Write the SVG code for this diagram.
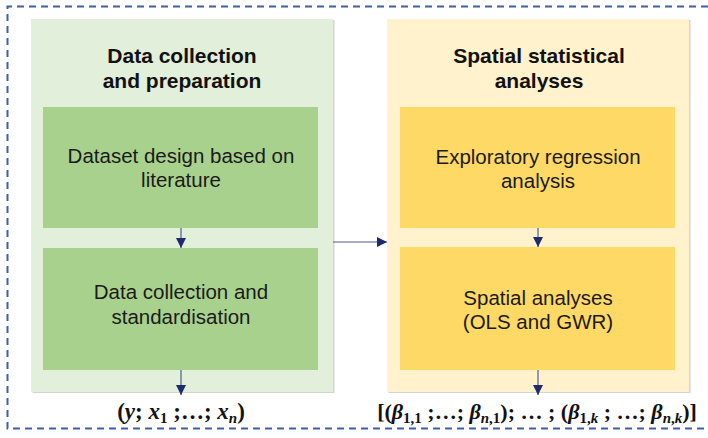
<svg xmlns="http://www.w3.org/2000/svg" width="708" height="438" viewBox="0 0 708 438">
<defs>
<style>
.panelG{fill:#e2efda}
.panelY{fill:#fff2cc}
.shadow{fill:#d3d6cf}
.boxG{fill:#a9d18e}
.boxY{fill:#ffd966}
.title{font-family:"Liberation Sans",Arial,sans-serif;font-weight:bold;font-size:21px;fill:#111;text-anchor:middle}
.body{font-family:"Liberation Sans",Arial,sans-serif;font-size:20.5px;fill:#1a1a1a;text-anchor:middle}
.math{font-family:"Liberation Serif","DejaVu Serif",serif;font-weight:bold;font-size:23px;fill:#111;text-anchor:middle}
.mathR{font-size:22px}
.it{font-style:italic}
.sub{font-size:15px}
.conn{stroke:#4f5f8f;stroke-width:1.2;fill:none}
</style>
<marker id="ah" viewBox="0 0 10 10" refX="10" refY="5" markerWidth="10" markerHeight="10" markerUnits="userSpaceOnUse" orient="auto">
<path d="M0,0 L10,5 L0,10 Z" fill="#1f2a6e"/>
</marker>
</defs>
<rect width="708" height="438" fill="#ffffff"/>
<path d="M720,6.5 H7.5 V428.5 H720" fill="none" stroke="#3f5fa8" stroke-width="2" stroke-dasharray="7,5"/>

<g id="panel-data">
<rect class="shadow" x="32.5" y="20" width="302" height="373"/>
<rect class="panelG" x="31" y="19" width="302" height="373"/>
<text class="title" x="182" y="63">Data collection</text>
<text class="title" x="182" y="88">and preparation</text>
</g>
<g id="box-dataset-design">
<rect class="boxG" x="43" y="107" width="275" height="121"/>
<text class="body" x="181" y="163">Dataset design based on</text>
<text class="body" x="181" y="187">literature</text>
</g>
<g id="box-data-collection">
<rect class="boxG" x="43" y="248" width="275" height="122"/>
<text class="body" x="181" y="299">Data collection and</text>
<text class="body" x="181" y="324">standardisation</text>
</g>

<g id="panel-spatial">
<rect class="shadow" x="388.5" y="20" width="302" height="373"/>
<rect class="panelY" x="387" y="19" width="302" height="373"/>
<text class="title" x="539" y="63">Spatial statistical</text>
<text class="title" x="539" y="88">analyses</text>
</g>
<g id="box-exploratory">
<rect class="boxY" x="400" y="107" width="275" height="121"/>
<text class="body" x="538" y="164">Exploratory regression</text>
<text class="body" x="538" y="188">analysis</text>
</g>
<g id="box-spatial-analyses">
<rect class="boxY" x="400" y="247" width="275" height="123"/>
<text class="body" x="538" y="305">Spatial analyses</text>
<text class="body" x="538" y="329">(OLS and GWR)</text>
</g>

<g id="output-left">
<text class="math" x="181" y="419">(<tspan class="it">y</tspan>; <tspan class="it">x</tspan><tspan class="sub" dy="4">1</tspan><tspan dy="-4"> ;…; </tspan><tspan class="it">x</tspan><tspan class="sub it" dy="4">n</tspan><tspan dy="-4">)</tspan></text>
</g>
<g id="output-right">
<text class="math mathR" x="537" y="419">[(<tspan class="it">β</tspan><tspan class="sub" dy="4">1,1</tspan><tspan dy="-4"> ;…; </tspan><tspan class="it">β</tspan><tspan class="sub" dy="4"><tspan class="it">n</tspan>,1</tspan><tspan dy="-4">); … ; (</tspan><tspan class="it">β</tspan><tspan class="sub" dy="4">1,<tspan class="it">k</tspan></tspan><tspan dy="-4"> ; …; </tspan><tspan class="it">β</tspan><tspan class="sub" dy="4"><tspan class="it">n</tspan>,<tspan class="it">k</tspan></tspan><tspan dy="-4">)]</tspan></text>
</g>

<g id="connectors">
<line class="conn" x1="181" y1="228" x2="181" y2="248" marker-end="url(#ah)"/>
<line class="conn" x1="538" y1="228" x2="538" y2="247" marker-end="url(#ah)"/>
<line class="conn" x1="333" y1="242" x2="387" y2="242" marker-end="url(#ah)"/>
<line class="conn" x1="181" y1="370" x2="181" y2="395" marker-end="url(#ah)"/>
<line class="conn" x1="538" y1="370" x2="538" y2="395" marker-end="url(#ah)"/>
</g>
</svg>
